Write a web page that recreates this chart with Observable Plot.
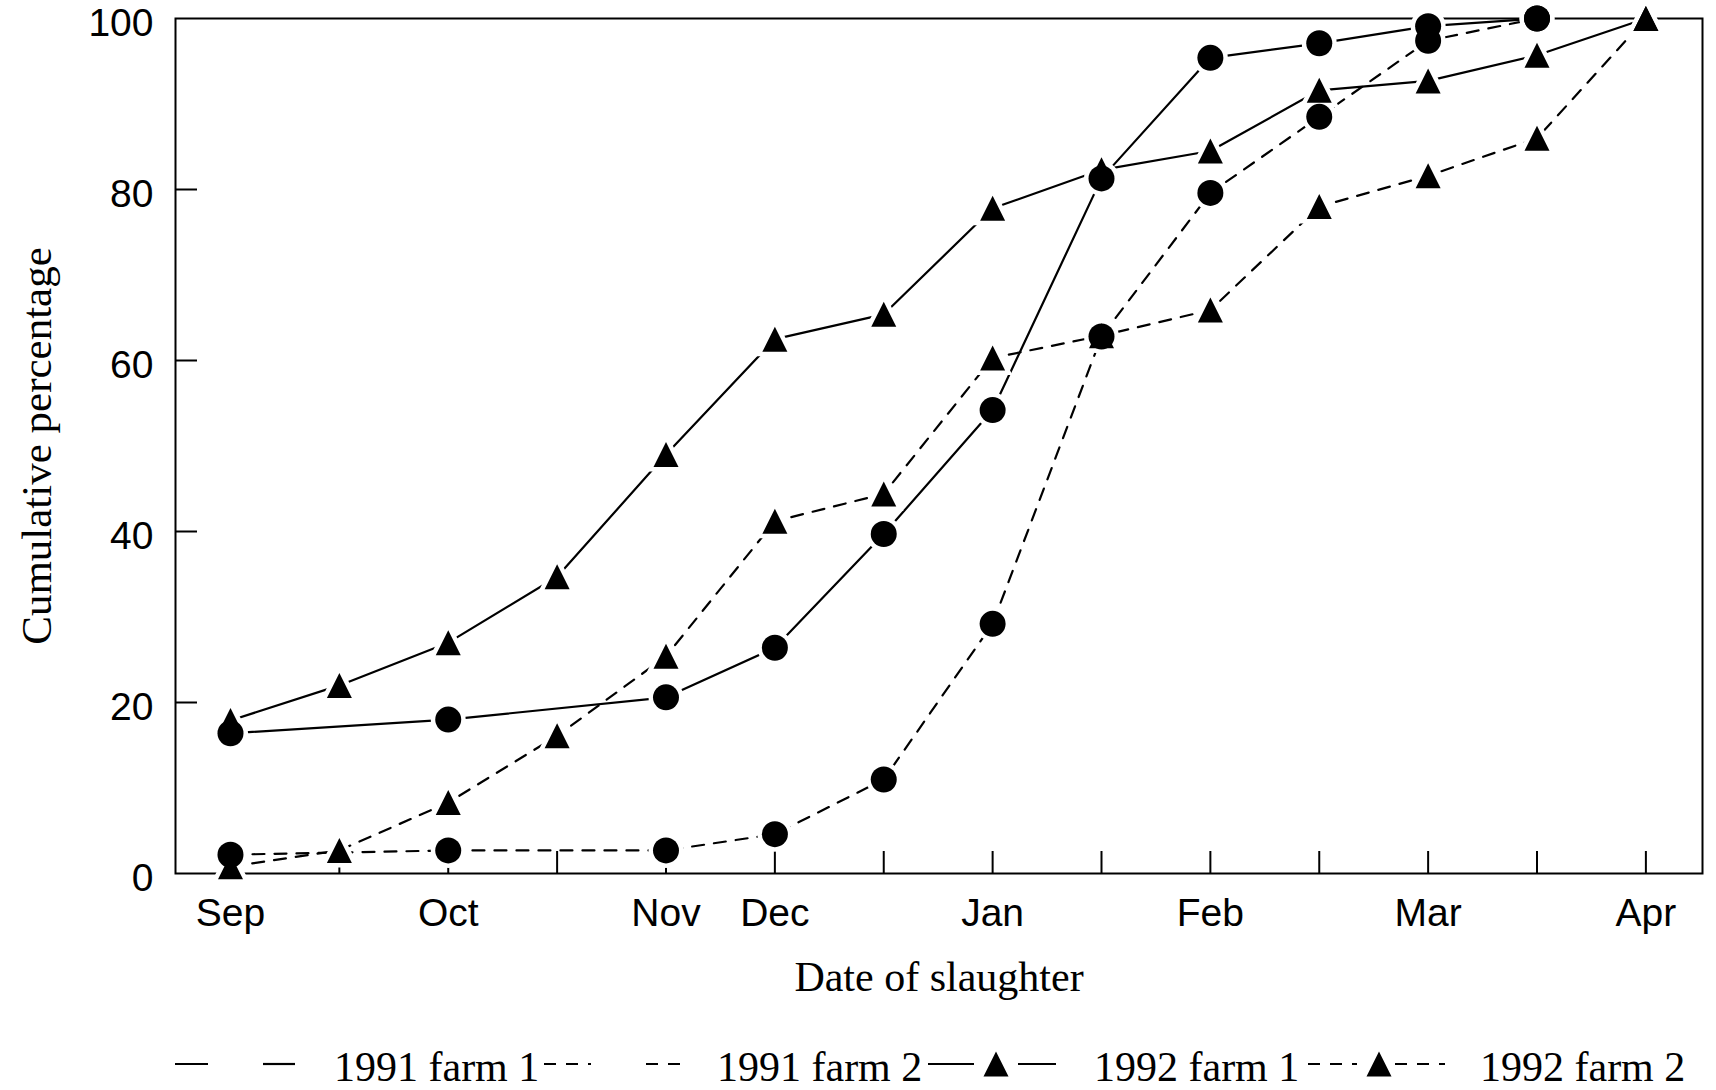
<!DOCTYPE html>
<html><head><meta charset="utf-8">
<script src="https://cdn.jsdelivr.net/npm/d3@7"></script>
<script src="https://cdn.jsdelivr.net/npm/@observablehq/plot@0.6"></script>
<style>
body{margin:0;background:#fff;}
#chart{width:1716px;}
#legend{display:block;}
</style>
</head><body>
<div id="chart"></div>
<script>
// ---- data ----
const positions = [0,1,2,3,4,5,6,7,8,9,10,11,12,13];
const tickLabelPositions = [0,2,4,5,7,9,11,13];
const tickLabels = ["Sep","Oct","Nov","Dec","Jan","Feb","Mar","Apr"];
const yTicks = [0,20,40,60,80,100];
const seriesNames = ["1991 farm 1","1991 farm 2","1992 farm 1","1992 farm 2"];

const x1991 = [0,2,4,5,6,7,8,9,10,11,12];
const farm1_1991 = [16.4,18.0,20.6,26.4,39.7,54.2,81.3,95.4,97.1,99.1,100];
const farm2_1991 = [2.2,2.7,2.7,4.6,11.0,29.2,62.8,79.6,88.5,97.4,100];

const x1992 = [0,1,2,3,4,5,6,7,8,9,10,11,12,13];
const farm1_1992 = [17.9,22.0,27.0,34.7,49.0,62.5,65.4,77.8,82.3,84.5,91.6,92.7,95.7,100];
const farm2_1992 = [0.8,2.7,8.3,16.1,25.4,41.2,44.4,60.3,62.9,65.9,78.0,81.6,86.0,100];

const series = [
  {name: seriesNames[0], xs: x1991, ys: farm1_1991, dashed: false, marker: "circle"},
  {name: seriesNames[1], xs: x1991, ys: farm2_1991, dashed: true,  marker: "circle"},
  {name: seriesNames[2], xs: x1992, ys: farm1_1992, dashed: false, marker: "triangle"},
  {name: seriesNames[3], xs: x1992, ys: farm2_1992, dashed: true,  marker: "triangle"}
];
const rows = series.flatMap(s => s.xs.map((x, i) => ({series: s.name, x, y: s.ys[i], dashed: s.dashed, marker: s.marker})));

// ---- layout ----
const W = 1716, H = 1030;
const mL = 175, mR = 14, mT = 18, mB = 157;
const xDomain = [-0.505, 13.52];
const pxPerX = (W - mL - mR) / (xDomain[1] - xDomain[0]);
const pxPerY = (H - mT - mB) / 100;
const tickLen = 22;
const DASH = "12,10";

const triangle = {
  draw(ctx, size) {
    const r = Math.sqrt(size / Math.PI);
    ctx.moveTo(0, -r);
    ctx.lineTo(r, r);
    ctx.lineTo(-r, r);
    ctx.closePath();
  }
};

const circles = rows.filter(d => d.marker === "circle");
const tris = rows.filter(d => d.marker === "triangle");
const solid = rows.filter(d => !d.dashed);
const dashed = rows.filter(d => d.dashed);

const plot = Plot.plot({
  width: W, height: H,
  marginLeft: mL, marginRight: mR, marginTop: mT, marginBottom: mB,
  style: {background: "white", color: "black", fontFamily: "Liberation Sans", overflow: "visible"},
  x: {type: "linear", domain: xDomain, axis: null},
  y: {type: "linear", domain: [0, 100], axis: null},
  marks: [
    Plot.frame({stroke: "black", strokeWidth: 2}),
    Plot.ruleX(positions, {x: d => d, y1: 0, y2: tickLen / pxPerY, stroke: "black", strokeWidth: 2}),
    Plot.ruleY([20, 40, 60, 80], {y: d => d, x1: xDomain[0], x2: xDomain[0] + tickLen / pxPerX, stroke: "black", strokeWidth: 2}),
    Plot.axisX(tickLabelPositions, {tickSize: 0, tickPadding: 25, fontSize: 39, fontFamily: "Liberation Sans", tickFormat: d => tickLabels[tickLabelPositions.indexOf(d)], label: null}),
    Plot.axisY(yTicks, {tickSize: 0, tickPadding: 22, fontSize: 39, dy: 5, fontFamily: "Liberation Sans", label: null}),
    Plot.line(solid, {x: "x", y: "y", z: "series", stroke: "black", strokeWidth: 2.2}),
    Plot.line(dashed, {x: "x", y: "y", z: "series", stroke: "black", strokeWidth: 2.2, strokeDasharray: DASH}),
    Plot.dot(circles, {x: "x", y: "y", symbol: "circle", r: 13, fill: "white", stroke: "white", strokeWidth: 9}),
    Plot.dot(tris, {x: "x", y: "y", symbol: triangle, r: 12.5, fill: "white", stroke: "white", strokeWidth: 9}),
    Plot.dot(circles, {x: "x", y: "y", symbol: "circle", r: 13, fill: "black", stroke: "none"}),
    Plot.dot(tris, {x: "x", y: "y", symbol: triangle, r: 12.5, fill: "black", stroke: "none"}),
    Plot.text(["Date of slaughter"], {frameAnchor: "bottom", dy: 117, lineAnchor: "bottom", fontSize: 42, fontFamily: "Liberation Serif", fill: "black"}),
    Plot.text(["Cumulative percentage"], {frameAnchor: "left", dx: -125, rotate: -90, textAnchor: "middle", lineAnchor: "bottom", fontSize: 43, fontFamily: "Liberation Serif", fill: "black"})
  ]
});
document.getElementById("chart").appendChild(plot);

// ---- legend (below the plot) ----
const legendItems = [
  {name: seriesNames[0], dashed: false, marker: null,       seg1: [175, 208],  seg2: [263, 295],  mx: null, tx: 334},
  {name: seriesNames[1], dashed: true,  marker: null,       seg1: [544, 591],  seg2: [646, 684],  mx: null, tx: 717},
  {name: seriesNames[2], dashed: false, marker: "triangle", seg1: [928, 974],  seg2: [1018, 1056], mx: 996, tx: 1094},
  {name: seriesNames[3], dashed: true,  marker: "triangle", seg1: [1308, 1357], seg2: [1395, 1445], mx: 1379, tx: 1480}
];
const lg = d3.create("svg").attr("id", "legend").attr("width", W).attr("height", 60)
  .attr("font-family", "Liberation Serif");
const lineY = 34, baseY = 51;
for (const it of legendItems) {
  for (const s of [it.seg1, it.seg2]) {
    lg.append("line").attr("x1", s[0]).attr("x2", s[1]).attr("y1", lineY).attr("y2", lineY)
      .attr("stroke", "black").attr("stroke-width", 2.2)
      .attr("stroke-dasharray", it.dashed ? DASH : null);
  }
  if (it.marker === "triangle") {
    lg.append("path").attr("d", `M${it.mx},${lineY-12.5}L${it.mx+12.5},${lineY+12.5}L${it.mx-12.5},${lineY+12.5}Z`).attr("fill", "black");
  }
  lg.append("text").attr("x", it.tx).attr("y", baseY).attr("font-size", 42).attr("fill", "black").text(it.name);
}
document.getElementById("chart").appendChild(lg.node());
</script>
</body></html>
